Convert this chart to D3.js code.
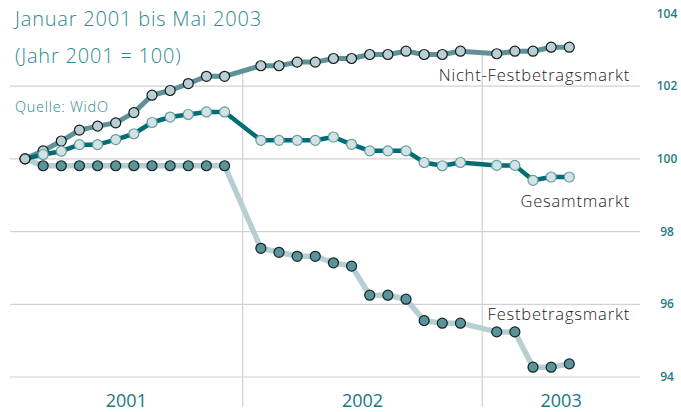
<!DOCTYPE html>
<html>
<head>
<meta charset="utf-8">
<script src="https://cdn.jsdelivr.net/npm/d3@7"></script>
<style>
  body { margin: 0; background: #fff; }
  svg { display: block; }
  text { font-family: "Open Sans", "Noto Sans", sans-serif; }
</style>
</head>
<body>
<div id="chart"></div>
<script>
// Monthly index values, Jan 2001 .. May 2003 (Jahr 2001 = 100)
let years = ["2001", "2002", "2003"]
let monthsPerYear = [12, 12, 5]

let nicht = [100, 100.22, 100.49, 100.79, 100.90, 100.99, 101.27, 101.75, 101.88, 102.07, 102.27, 102.27,
  102.56, 102.56, 102.66, 102.66, 102.76, 102.76, 102.87, 102.87, 102.96, 102.87, 102.87, 102.96,
  102.89, 102.96, 102.96, 103.07, 103.07]
let gesamt = [100, 100.12, 100.21, 100.39, 100.39, 100.53, 100.69, 101.00, 101.15, 101.22, 101.29, 101.29,
  100.51, 100.51, 100.51, 100.51, 100.60, 100.40, 100.22, 100.22, 100.22, 99.90, 99.81, 99.90,
  99.82, 99.82, 99.41, 99.50, 99.50]
let fest = [100, 99.81, 99.81, 99.81, 99.81, 99.81, 99.81, 99.81, 99.81, 99.81, 99.81, 99.81,
  97.54, 97.43, 97.32, 97.32, 97.14, 97.05, 96.25, 96.25, 96.14, 95.55, 95.48, 95.48,
  95.24, 95.24, 94.27, 94.27, 94.36]

let yTicks = [94, 96, 98, 100, 102, 104]

let width = 681
let height = 412

let svg = d3.select("#chart").append("svg")
    .attr("width", width)
    .attr("height", height)

// every year gets its months plus one empty slot before the next year
let slots = []
let s = 0
monthsPerYear.forEach((n) => {
  for (let m = 0; m < n; m++) slots.push(s + m)
  s += n + 1
})

let x = d3.scaleLinear().domain([0, 30]).range([25, 569.3])
let y = d3.scaleLinear().domain([94, 104]).range([377, 13.4])

let left = 10, right = 640, bottom = 407

// horizontal grid
svg.append("g").selectAll("line")
    .data(yTicks.filter(t => t < 104))
    .enter().append("line")
    .attr("x1", left).attr("x2", right)
    .attr("y1", d => y(d)).attr("y2", d => y(d))
    .attr("stroke", "#d2d2d2").attr("stroke-width", 1.2)

// year dividers, starting just under the top line
let dividers = [12, 25.2]
svg.append("g").selectAll("line")
    .data(dividers)
    .enter().append("line")
    .attr("x1", d => x(d)).attr("x2", d => x(d))
    .attr("y1", d => {
      let i = d < 20 ? 11 : 23
      return (y(nicht[i]) + y(nicht[i + 1])) / 2 + 2
    })
    .attr("y2", bottom)
    .attr("stroke", "#d2d2d2").attr("stroke-width", 1.2)

// right-hand value labels
svg.append("g").selectAll("text")
    .data(yTicks)
    .enter().append("text")
    .attr("x", 667).attr("y", d => y(d))
    .attr("dy", "0.35em")
    .attr("text-anchor", "middle")
    .style("font-size", "12px").style("font-weight", 600)
    .attr("fill", "#1f7c84")
    .text(d => d)

// year labels centred in their bands
let bandEdges = [left, x(dividers[0]), x(dividers[1]), right]
svg.append("g").selectAll("text")
    .data(years)
    .enter().append("text")
    .attr("x", (d, i) => (bandEdges[i] + bandEdges[i + 1]) / 2)
    .attr("y", 407)
    .attr("text-anchor", "middle")
    .style("font-size", "18px")
    .attr("fill", "#167780")
    .text(d => d)

let series = [
  { name: "fest", values: fest, line: "#b7cfd2", lw: 5.5, fill: "#5b939a", stroke: "#122424" },
  { name: "nicht", values: nicht, line: "#5d9398", lw: 5, fill: "#bacfd2", stroke: "#151c1d" },
  { name: "gesamt", values: gesamt, line: "#006c74", lw: 4.5, fill: "#d4e2e3", stroke: "#5f9da2" }
]

let line = d3.line()
    .x((d, i) => x(slots[i]))
    .y(d => y(d))

// lines first, then the markers on top
series.forEach(sr => {
  svg.append("path")
      .datum(sr.values)
      .attr("d", line)
      .attr("fill", "none")
      .attr("stroke", sr.line)
      .attr("stroke-width", sr.lw)
      .attr("stroke-linejoin", "round")
})

series.forEach(sr => {
  svg.append("g").selectAll("circle")
      .data(sr.values.map((v, i) => ({ v: v, i: i })))
      .enter().append("circle")
      .filter(d => !(sr.name == "gesamt" && d.i == 0)) // shared base point shows the Nicht marker
      .attr("cx", d => x(slots[d.i]))
      .attr("cy", d => y(d.v))
      .attr("r", 5)
      .attr("fill", sr.fill)
      .attr("stroke", sr.stroke)
      .attr("stroke-width", 1.2)
})

// series names
let names = [
  { text: "Nicht-Festbetragsmarkt", y: 81 },
  { text: "Gesamtmarkt", y: 207 },
  { text: "Festbetragsmarkt", y: 320 }
]
svg.append("g").selectAll("text")
    .data(names)
    .enter().append("text")
    .attr("x", 630).attr("y", d => d.y)
    .attr("text-anchor", "end")
    .style("font-size", "16.5px").style("font-weight", 300)
    .style("letter-spacing", "0.8px")
    .attr("fill", "#222")
    .text(d => d.text)

// title block
svg.append("text").attr("x", 15).attr("y", 26)
    .style("font-size", "20px").style("font-weight", 300)
    .style("letter-spacing", "0.8px")
    .attr("fill", "#2e8990")
    .text("Januar 2001 bis Mai 2003")
svg.append("text").attr("x", 15).attr("y", 63)
    .style("font-size", "20px").style("font-weight", 300)
    .style("letter-spacing", "0.8px")
    .attr("fill", "#2e8990")
    .text("(Jahr 2001 = 100)")
svg.append("text").attr("x", 15).attr("y", 112)
    .style("font-size", "14.5px").style("font-weight", 300)
    .style("letter-spacing", "0.7px")
    .attr("fill", "#2e8990")
    .text("Quelle: WidO")
</script>
</body>
</html>
